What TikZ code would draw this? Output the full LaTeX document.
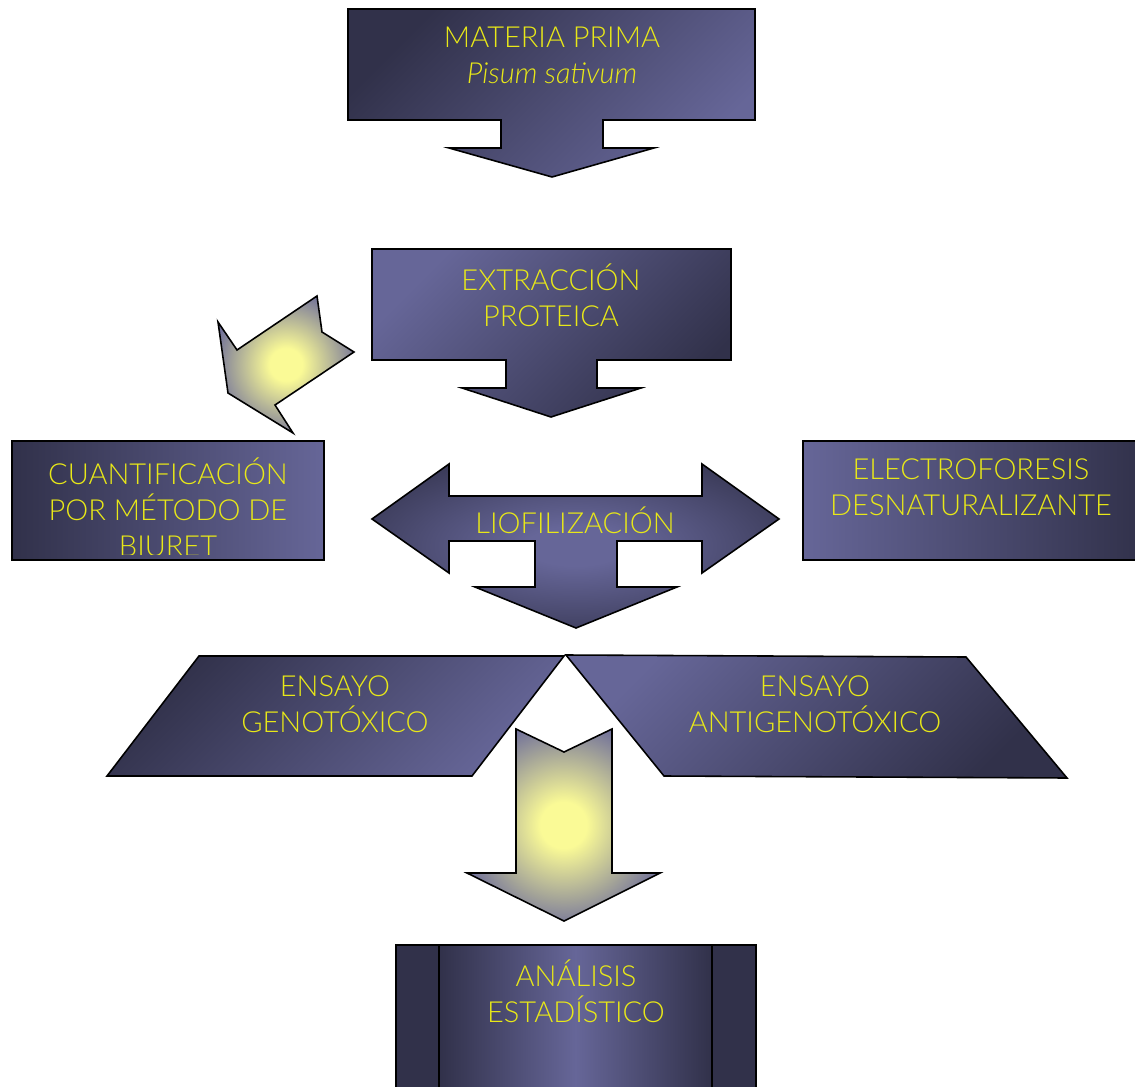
\documentclass[tikz,border=0pt]{standalone}
\usepackage{fontspec}
\setmainfont{Lato}[UprightFont=* Light,ItalicFont=* Light Italic]
\definecolor{navydk}{HTML}{31314A}
\definecolor{navylt}{HTML}{666698}
\definecolor{glowin}{HTML}{FAFA96}
\definecolor{glowout}{HTML}{66669A}
\definecolor{labely}{RGB}{232,232,24}
\pgfdeclareradialshading{glowshade}{\pgfpoint{0bp}{0bp}}{color(0bp)=(glowin); color(6bp)=(glowin); color(29bp)=(glowout); color(50bp)=(glowout)}
\pgfdeclareradialshading{hubshade}{\pgfpoint{0bp}{0bp}}{color(0bp)=(navylt); color(6bp)=(navylt); color(34bp)=(navydk); color(50bp)=(navydk)}
\tikzset{
  lbl/.style={text=labely,align=center,font=\fontsize{16.5}{20.5}\selectfont,inner sep=0pt},
  rim/.style={draw=black,line width=0.9pt,line join=miter},
  glow/.style={rim,shading=glowshade},
}

\begin{document}
\begin{tikzpicture}[x=0.02cm,y=-0.02cm]
\clip (0,0) rectangle (1135,1087);
\fill[white] (0,0) rectangle (1135,1087);

\path[rim,top color=navydk,bottom color=navylt,shading angle=45] (348,9) -- (755,9) -- (755,120) -- (603,120) -- (603,148) -- (654,148) -- (552,177) -- (449,148) -- (501,148) -- (501,120) -- (348,120) -- cycle;
\path[rim,top color=navylt,bottom color=navydk,shading angle=45] (372,249) -- (731,249) -- (731,360) -- (597,360) -- (597,388) -- (641,388) -- (551,417) -- (462,388) -- (506,388) -- (506,360) -- (372,360) -- cycle;
\path[glow] (218,322) -- (237,350) -- (317,296) -- (322,332) -- (354,352) -- (275,405) -- (293,433) -- (228,393) -- cycle;
\path[rim,left color=navydk,right color=navylt] (12,441) rectangle (324,560);
\path[rim,left color=navylt,right color=navydk] (803,441) rectangle (1145,560);
\path[rim,shading=hubshade] (372,519) -- (449,464) -- (449,496) -- (702,496) -- (702,464) -- (779,519) -- (702,573) -- (702,541) -- (617,541) -- (617,587) -- (677,587) -- (576,628) -- (475,587) -- (535,587) -- (535,541) -- (449,541) -- (449,573) -- cycle;
\path[rim,top color=navydk,bottom color=navylt,shading angle=45] (199,656) -- (564,656) -- (472,776) -- (107,776) -- cycle;
\path[rim,top color=navylt,bottom color=navydk,shading angle=45] (566,655) -- (966,657) -- (1067,778) -- (664,776) -- cycle;
\path[glow] (516,729) -- (564,752) -- (612,729) -- (612,873) -- (660,873) -- (564,921) -- (467,873) -- (516,873) -- cycle;
\path[rim,fill=navydk] (396,945) rectangle (756,1100);
\path[rim,left color=navydk,right color=navydk,middle color=navylt] (439,945) rectangle (712,1100);

\node[lbl] (materia) at (552,55) {MATERIA PRIMA\\\itshape Pisum sativum};
\node[lbl] (extraccion) at (551,295) {EXTRACCIÓN\\PROTEICA};
\begin{scope}
\clip (12,441) rectangle (324,554);
\node[lbl] (biuret) at (168,507) {CUANTIFICACIÓN\\POR MÉTODO DE\\BIURET};
\end{scope}
\node[lbl] (electro) at (971,487) {ELECTROFORESIS\\DESNATURALIZANTE};
\node[lbl] (liofi) at (575,520) {LIOFILIZACIÓN};
\node[lbl] (geno) at (335,704) {ENSAYO\\GENOTÓXICO};
\node[lbl] (antigeno) at (815,704) {ENSAYO\\ANTIGENOTÓXICO};
\node[lbl] (analisis) at (576,991) {ANÁLISIS\\ESTADÍSTICO};
\end{tikzpicture}
\end{document}
